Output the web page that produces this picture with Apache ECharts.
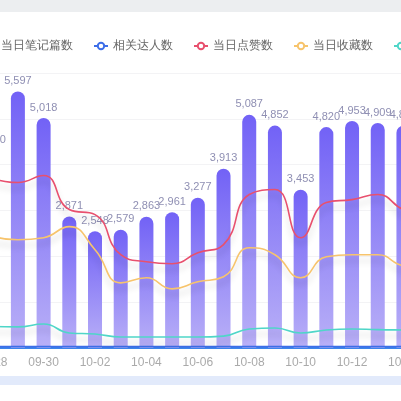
<!DOCTYPE html><html><head><meta charset="utf-8"><script src="https://cdn.jsdelivr.net/npm/echarts@6/dist/echarts.min.js"></script>
<style>html,body{margin:0;padding:0;background:#fff;overflow:hidden;width:401px;height:401px}#c{position:absolute;left:-26px;top:0;width:468px;height:401px}</style></head><body><div id="c"></div><script>
const categories=['09-28','09-29','09-30','10-01','10-02','10-03','10-04','10-05','10-06','10-07','10-08','10-09','10-10','10-11','10-12','10-13','10-14','10-15'];
const notes=[4300,5597,5018,2871,2548,2579,2863,2961,3277,3913,5087,4852,3453,4820,4953,4909,4850,4700];
const talents=[30,30,30,30,30,30,30,30,30,30,30,30,30,30,30,30,30,30];
const likes=[3700,3610,3764,3020,2910,2035,1882,1838,2079,2254,3348,3457,2407,3173,3238,3348,3020,2900];
const collects=[2430,2363,2407,2648,2144,1422,1532,1291,1444,1554,2188,2035,1532,1991,2035,2035,1794,1750];
const shares=[470,460,525,328,306,240,240,240,240,260,416,438,328,394,416,400,394,390];
const names=['当日笔记篇数','相关达人数','当日点赞数','当日收藏数','当日分享数'];
const c=echarts.init(document.getElementById('c'));
function line(name,data,color){return {name,type:'line',data,smooth:true,showSymbol:false,symbol:'emptyCircle',symbolSize:6,
 itemStyle:{color},lineStyle:{color,width:1.6,shadowColor:'rgba(0,0,0,0.18)',shadowBlur:6,shadowOffsetY:6}};}
c.setOption({animation:false,
 graphic:[{type:'rect',shape:{x:0,y:0,width:468,height:12},style:{fill:'#eceef0'}},
   {type:'rect',shape:{x:0,y:376,width:468,height:9},style:{fill:'#e2eafb'}}],
 legend:{left:3,top:35,width:800,itemWidth:14,itemHeight:8,itemGap:20,textStyle:{fontSize:12,color:'#666'},data:names},
 grid:{left:0,right:0,top:73,bottom:53,containLabel:false},
 xAxis:{type:'category',data:categories,axisTick:{show:false},axisLine:{lineStyle:{color:'#3d86ee',width:2}},
   axisLabel:{interval:1,color:'#aaa',fontSize:12,margin:9}},
 yAxis:{type:'value',min:0,max:6000,interval:1000,axisLabel:{show:false},splitLine:{lineStyle:{color:'#f3f3f5'}}},
 series:[{name:names[0],type:'bar',data:notes,barWidth:14,
   itemStyle:{borderRadius:[7,7,0,0],color:new echarts.graphic.LinearGradient(0,0,0,1,[{offset:0,color:'#7262f6'},{offset:1,color:'#b9b0f7'}])},
   label:{show:true,position:'top',color:'#8f8fb3',fontSize:11,formatter:p=>p.value.toLocaleString('en-US')}},
  line(names[1],talents,'#3d6ee8'),line(names[2],likes,'#e8506e'),line(names[3],collects,'#f7c46c'),line(names[4],shares,'#4fd6c8')]
});
</script></body></html>
